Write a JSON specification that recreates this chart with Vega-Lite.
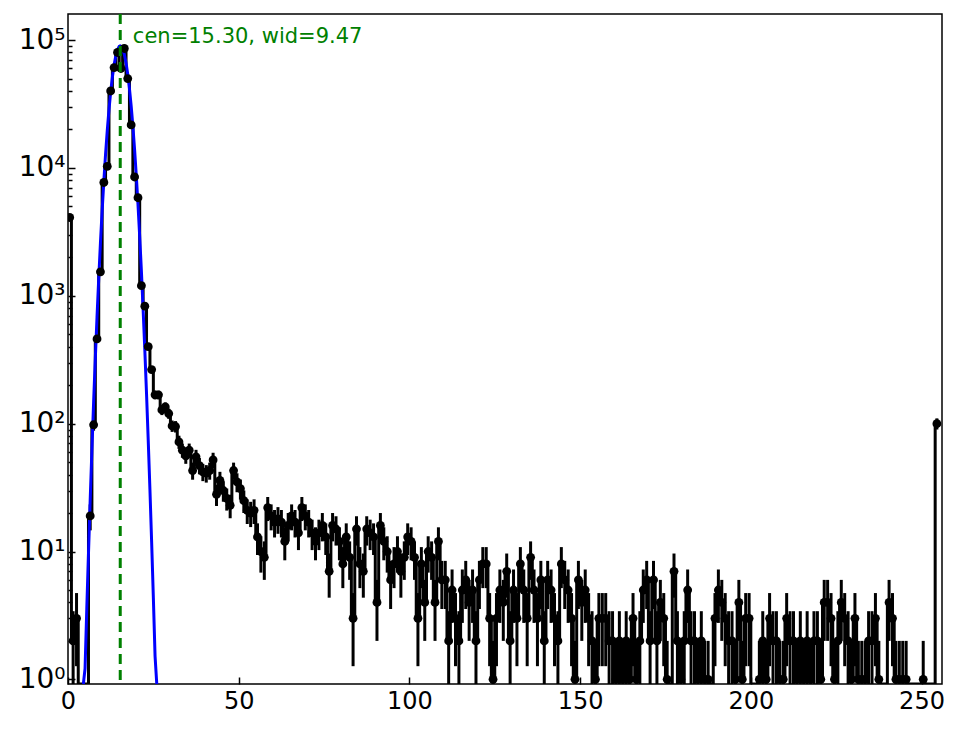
{
  "$schema": "https://vega.github.io/schema/vega-lite/v6.json",
  "width": 874,
  "height": 670,
  "autosize": {"type": "none"},
  "padding": {"left": 68, "top": 14, "right": 22, "bottom": 45},
  "background": "white",
  "datasets": {
    "hist": [
      {"x": 0.5, "n": 4100}, {"x": 1.5, "n": 2}, {"x": 2.5, "n": 3}, {"x": 3.5, "n": 0}, {"x": 4.5, "n": 0},
      {"x": 5.5, "n": 0}, {"x": 6.5, "n": 19}, {"x": 7.5, "n": 98}, {"x": 8.5, "n": 460}, {"x": 9.5, "n": 1540},
      {"x": 10.5, "n": 7700}, {"x": 11.5, "n": 10300}, {"x": 12.5, "n": 40000}, {"x": 13.5, "n": 61000}, {"x": 14.5, "n": 80000},
      {"x": 15.5, "n": 60000}, {"x": 16.5, "n": 86000}, {"x": 17.5, "n": 50000}, {"x": 18.5, "n": 21700}, {"x": 19.5, "n": 8500},
      {"x": 20.5, "n": 5850}, {"x": 21.5, "n": 1200}, {"x": 22.5, "n": 830}, {"x": 23.5, "n": 400}, {"x": 24.5, "n": 265},
      {"x": 25.5, "n": 168}, {"x": 26.5, "n": 168}, {"x": 27.5, "n": 128}, {"x": 28.5, "n": 135}, {"x": 29.5, "n": 120},
      {"x": 30.5, "n": 96}, {"x": 31.5, "n": 95}, {"x": 32.5, "n": 72}, {"x": 33.5, "n": 62}, {"x": 34.5, "n": 56},
      {"x": 35.5, "n": 62}, {"x": 36.5, "n": 43}, {"x": 37.5, "n": 55}, {"x": 38.5, "n": 47}, {"x": 39.5, "n": 42},
      {"x": 40.5, "n": 41}, {"x": 41.5, "n": 43}, {"x": 42.5, "n": 52}, {"x": 43.5, "n": 28}, {"x": 44.5, "n": 36},
      {"x": 45.5, "n": 30}, {"x": 46.5, "n": 26}, {"x": 47.5, "n": 23}, {"x": 48.5, "n": 43}, {"x": 49.5, "n": 35},
      {"x": 50.5, "n": 31}, {"x": 51.5, "n": 25}, {"x": 52.5, "n": 21}, {"x": 53.5, "n": 20}, {"x": 54.5, "n": 21},
      {"x": 55.5, "n": 13}, {"x": 56.5, "n": 10}, {"x": 57.5, "n": 9}, {"x": 58.5, "n": 22}, {"x": 59.5, "n": 19},
      {"x": 60.5, "n": 17}, {"x": 61.5, "n": 18}, {"x": 62.5, "n": 17}, {"x": 63.5, "n": 12}, {"x": 64.5, "n": 16},
      {"x": 65.5, "n": 19}, {"x": 66.5, "n": 17}, {"x": 67.5, "n": 14}, {"x": 68.5, "n": 22}, {"x": 69.5, "n": 19},
      {"x": 70.5, "n": 17}, {"x": 71.5, "n": 14}, {"x": 72.5, "n": 12}, {"x": 73.5, "n": 14}, {"x": 74.5, "n": 16},
      {"x": 75.5, "n": 13}, {"x": 76.5, "n": 7}, {"x": 77.5, "n": 16}, {"x": 78.5, "n": 15}, {"x": 79.5, "n": 12},
      {"x": 80.5, "n": 8}, {"x": 81.5, "n": 13}, {"x": 82.5, "n": 9}, {"x": 83.5, "n": 3}, {"x": 84.5, "n": 15},
      {"x": 85.5, "n": 8}, {"x": 86.5, "n": 7}, {"x": 87.5, "n": 15}, {"x": 88.5, "n": 14}, {"x": 89.5, "n": 13},
      {"x": 90.5, "n": 4}, {"x": 91.5, "n": 16}, {"x": 92.5, "n": 12}, {"x": 93.5, "n": 10}, {"x": 94.5, "n": 6},
      {"x": 95.5, "n": 8}, {"x": 96.5, "n": 10}, {"x": 97.5, "n": 7}, {"x": 98.5, "n": 9}, {"x": 99.5, "n": 13},
      {"x": 100.5, "n": 12}, {"x": 101.5, "n": 9}, {"x": 102.5, "n": 3}, {"x": 103.5, "n": 8}, {"x": 104.5, "n": 4},
      {"x": 105.5, "n": 10}, {"x": 106.5, "n": 9}, {"x": 107.5, "n": 4}, {"x": 108.5, "n": 12}, {"x": 109.5, "n": 6},
      {"x": 110.5, "n": 6}, {"x": 111.5, "n": 2}, {"x": 112.5, "n": 5}, {"x": 113.5, "n": 3}, {"x": 114.5, "n": 2},
      {"x": 115.5, "n": 5}, {"x": 116.5, "n": 6}, {"x": 117.5, "n": 4}, {"x": 118.5, "n": 5}, {"x": 119.5, "n": 2},
      {"x": 120.5, "n": 6}, {"x": 121.5, "n": 8}, {"x": 122.5, "n": 8}, {"x": 123.5, "n": 3}, {"x": 124.5, "n": 1},
      {"x": 125.5, "n": 3}, {"x": 126.5, "n": 5}, {"x": 127.5, "n": 4}, {"x": 128.5, "n": 7}, {"x": 129.5, "n": 2},
      {"x": 130.5, "n": 5}, {"x": 131.5, "n": 3}, {"x": 132.5, "n": 8}, {"x": 133.5, "n": 5}, {"x": 134.5, "n": 3},
      {"x": 135.5, "n": 9}, {"x": 136.5, "n": 5}, {"x": 137.5, "n": 3}, {"x": 138.5, "n": 6}, {"x": 139.5, "n": 2},
      {"x": 140.5, "n": 6}, {"x": 141.5, "n": 5}, {"x": 142.5, "n": 3}, {"x": 143.5, "n": 2}, {"x": 144.5, "n": 8},
      {"x": 145.5, "n": 6}, {"x": 146.5, "n": 5}, {"x": 147.5, "n": 3}, {"x": 148.5, "n": 1}, {"x": 149.5, "n": 6},
      {"x": 150.5, "n": 4}, {"x": 151.5, "n": 5}, {"x": 152.5, "n": 3}, {"x": 153.5, "n": 2}, {"x": 154.5, "n": 1},
      {"x": 155.5, "n": 3}, {"x": 156.5, "n": 3}, {"x": 157.5, "n": 3}, {"x": 158.5, "n": 2}, {"x": 159.5, "n": 2},
      {"x": 160.5, "n": 1}, {"x": 161.5, "n": 2}, {"x": 162.5, "n": 1}, {"x": 163.5, "n": 2}, {"x": 164.5, "n": 1},
      {"x": 165.5, "n": 3}, {"x": 166.5, "n": 1}, {"x": 167.5, "n": 2}, {"x": 168.5, "n": 5}, {"x": 169.5, "n": 6},
      {"x": 170.5, "n": 2}, {"x": 171.5, "n": 6}, {"x": 172.5, "n": 2}, {"x": 173.5, "n": 4}, {"x": 174.5, "n": 3},
      {"x": 175.5, "n": 1}, {"x": 176.5, "n": 0}, {"x": 177.5, "n": 7}, {"x": 178.5, "n": 2}, {"x": 179.5, "n": 1},
      {"x": 180.5, "n": 2}, {"x": 181.5, "n": 5}, {"x": 182.5, "n": 2}, {"x": 183.5, "n": 2}, {"x": 184.5, "n": 1},
      {"x": 185.5, "n": 2}, {"x": 186.5, "n": 1}, {"x": 187.5, "n": 1}, {"x": 188.5, "n": 0}, {"x": 189.5, "n": 3},
      {"x": 190.5, "n": 5}, {"x": 191.5, "n": 4}, {"x": 192.5, "n": 3}, {"x": 193.5, "n": 2}, {"x": 194.5, "n": 2},
      {"x": 195.5, "n": 1}, {"x": 196.5, "n": 4}, {"x": 197.5, "n": 1}, {"x": 198.5, "n": 3}, {"x": 199.5, "n": 3},
      {"x": 200.5, "n": 0}, {"x": 201.5, "n": 0}, {"x": 202.5, "n": 1}, {"x": 203.5, "n": 2}, {"x": 204.5, "n": 1},
      {"x": 205.5, "n": 3}, {"x": 206.5, "n": 2}, {"x": 207.5, "n": 2}, {"x": 208.5, "n": 1}, {"x": 209.5, "n": 1},
      {"x": 210.5, "n": 3}, {"x": 211.5, "n": 2}, {"x": 212.5, "n": 2}, {"x": 213.5, "n": 1}, {"x": 214.5, "n": 2},
      {"x": 215.5, "n": 1}, {"x": 216.5, "n": 2}, {"x": 217.5, "n": 1}, {"x": 218.5, "n": 2}, {"x": 219.5, "n": 2},
      {"x": 220.5, "n": 1}, {"x": 221.5, "n": 4}, {"x": 222.5, "n": 4}, {"x": 223.5, "n": 3}, {"x": 224.5, "n": 1},
      {"x": 225.5, "n": 2}, {"x": 226.5, "n": 4}, {"x": 227.5, "n": 3}, {"x": 228.5, "n": 2}, {"x": 229.5, "n": 1},
      {"x": 230.5, "n": 3}, {"x": 231.5, "n": 1}, {"x": 232.5, "n": 1}, {"x": 233.5, "n": 1}, {"x": 234.5, "n": 2},
      {"x": 235.5, "n": 2}, {"x": 236.5, "n": 3}, {"x": 237.5, "n": 1}, {"x": 238.5, "n": 0}, {"x": 239.5, "n": 0},
      {"x": 240.5, "n": 4}, {"x": 241.5, "n": 3}, {"x": 242.5, "n": 1}, {"x": 243.5, "n": 1}, {"x": 244.5, "n": 1},
      {"x": 245.5, "n": 1}, {"x": 246.5, "n": 0}, {"x": 247.5, "n": 0}, {"x": 248.5, "n": 0}, {"x": 249.5, "n": 0},
      {"x": 250.5, "n": 1}, {"x": 251.5, "n": 0}, {"x": 252.5, "n": 0}, {"x": 253.5, "n": 0}, {"x": 254.5, "n": 100}
    ],
    "fit": [
      {"x": 4.5, "f": 0.4}, {"x": 5, "f": 1.22}, {"x": 5.5, "f": 3.55}, {"x": 6, "f": 9.7}, {"x": 6.5, "f": 25.3},
      {"x": 7, "f": 62}, {"x": 7.5, "f": 146}, {"x": 8, "f": 324}, {"x": 8.5, "f": 681}, {"x": 9, "f": 1362},
      {"x": 9.5, "f": 2580}, {"x": 10, "f": 4635}, {"x": 10.5, "f": 7900}, {"x": 11, "f": 12770}, {"x": 11.5, "f": 19590},
      {"x": 12, "f": 28500}, {"x": 12.5, "f": 39330}, {"x": 13, "f": 51480}, {"x": 13.5, "f": 63930}, {"x": 14, "f": 75290},
      {"x": 14.5, "f": 84110}, {"x": 15, "f": 89150}, {"x": 15.3, "f": 90000}, {"x": 15.5, "f": 89620}, {"x": 16, "f": 85460},
      {"x": 16.5, "f": 77300}, {"x": 17, "f": 66330}, {"x": 17.5, "f": 53990}, {"x": 18, "f": 41680}, {"x": 18.5, "f": 30530},
      {"x": 19, "f": 21200}, {"x": 19.5, "f": 13970}, {"x": 20, "f": 8730}, {"x": 20.5, "f": 5175}, {"x": 21, "f": 2912},
      {"x": 21.5, "f": 1554}, {"x": 22, "f": 786}, {"x": 22.5, "f": 377}, {"x": 23, "f": 172}, {"x": 23.5, "f": 74},
      {"x": 24, "f": 30.4}, {"x": 24.5, "f": 11.8}, {"x": 25, "f": 4.36}, {"x": 25.5, "f": 1.52}, {"x": 26, "f": 0.5}
    ],
    "note": [
      {"cen": 15.3, "tx": 19, "ty": 94700, "label": "cen=15.30, wid=9.47"}
    ]
  },
  "layer": [
    {
      "data": {"name": "hist"},
      "transform": [{"calculate": "max(datum.n, 0.5)", "as": "c"}],
      "mark": {"type": "line", "interpolate": "step", "color": "black", "strokeWidth": 3, "clip": true},
      "encoding": {
        "x": {
          "field": "x",
          "type": "quantitative",
          "scale": {"domain": [0, 256], "nice": false, "zero": false},
          "axis": {
            "title": null,
            "values": [0, 50, 100, 150, 200, 250],
            "labelFlush": false,
            "labelFontSize": 24,
            "labelPadding": 12
          }
        },
        "y": {
          "field": "c",
          "type": "quantitative",
          "scale": {"type": "log", "domain": [0.92, 160000], "nice": false, "clamp": true},
          "axis": {
            "title": null,
            "values": [1, 2, 3, 4, 5, 6, 7, 8, 9, 10, 20, 30, 40, 50, 60, 70, 80, 90, 100, 200, 300, 400, 500, 600, 700, 800, 900, 1000, 2000, 3000, 4000, 5000, 6000, 7000, 8000, 9000, 10000, 20000, 30000, 40000, 50000, 60000, 70000, 80000, 90000, 100000],
            "labelExpr": "datum.value == 1 ? '10⁰' : datum.value == 10 ? '10¹' : datum.value == 100 ? '10²' : datum.value == 1000 ? '10³' : datum.value == 10000 ? '10⁴' : datum.value == 100000 ? '10⁵' : ''",
            "tickSize": {"condition": {"test": "indexof([1, 10, 100, 1000, 10000, 100000], datum.value) >= 0", "value": -7}, "value": -4},
            "labelFontSize": 28,
            "labelPadding": 10
          }
        }
      }
    },
    {
      "data": {"name": "hist"},
      "transform": [
        {"filter": "datum.n > 0"},
        {"calculate": "max(datum.n - sqrt(datum.n), 0.5)", "as": "lo"},
        {"calculate": "datum.n + sqrt(datum.n)", "as": "hi"}
      ],
      "mark": {"type": "rule", "color": "black", "strokeWidth": 3, "clip": true},
      "encoding": {
        "x": {"field": "x", "type": "quantitative"},
        "y": {"field": "lo", "type": "quantitative"},
        "y2": {"field": "hi"}
      }
    },
    {
      "data": {"name": "fit"},
      "mark": {"type": "line", "color": "#0000ff", "strokeWidth": 3, "clip": true},
      "encoding": {
        "x": {"field": "x", "type": "quantitative"},
        "y": {"field": "f", "type": "quantitative"}
      }
    },
    {
      "data": {"name": "hist"},
      "transform": [{"filter": "datum.n > 0"}],
      "mark": {"type": "circle", "color": "black", "size": 78, "opacity": 1, "clip": true},
      "encoding": {
        "x": {"field": "x", "type": "quantitative"},
        "y": {"field": "n", "type": "quantitative"}
      }
    },
    {
      "data": {"name": "note"},
      "mark": {"type": "rule", "color": "#008000", "strokeWidth": 3, "strokeDash": [10, 6]},
      "encoding": {
        "x": {"field": "cen", "type": "quantitative"}
      }
    },
    {
      "data": {"name": "note"},
      "mark": {"type": "text", "align": "left", "baseline": "alphabetic", "fontSize": 21, "color": "#008000", "font": "DejaVu Sans"},
      "encoding": {
        "x": {"field": "tx", "type": "quantitative"},
        "y": {"field": "ty", "type": "quantitative"},
        "text": {"field": "label"}
      }
    }
  ],
  "config": {
    "font": "DejaVu Sans",
    "view": {"stroke": "black", "strokeWidth": 1.5},
    "axis": {
      "grid": false,
      "domain": false,
      "ticks": true,
      "tickColor": "black",
      "tickWidth": 1.5,
      "tickSize": -7,
      "labelColor": "black",
      "labelFont": "DejaVu Sans",
      "labelFontSize": 24,
      "labelOverlap": false,
      "labelBound": false
    }
  }
}
